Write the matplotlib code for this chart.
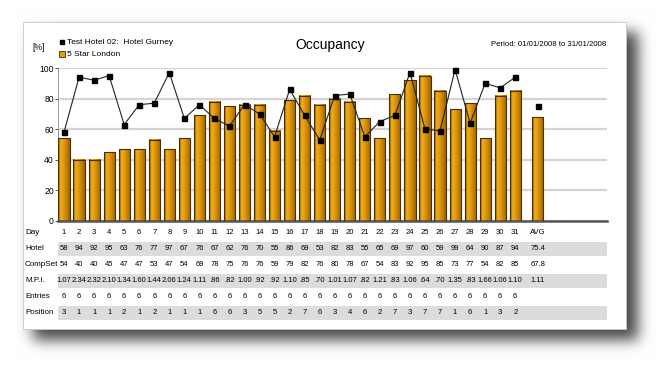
"""Occupancy chart: hotel vs comp set, with daily table underneath."""

import matplotlib
matplotlib.use("Agg")
import matplotlib.pyplot as plt
import numpy as np
from matplotlib.colors import LinearSegmentedColormap
from matplotlib.lines import Line2D
from matplotlib.patches import Rectangle
from matplotlib.transforms import blended_transform_factory

plt.rcParams["font.family"] = ["Liberation Sans Narrow", "Liberation Sans", "DejaVu Sans"]
plt.rcParams["font.stretch"] = "condensed"

days = list(range(1, 32))
hotel = [58, 94, 92, 95, 63, 76, 77, 97, 67, 76, 67, 62, 76, 70, 55, 86,
         69, 53, 82, 83, 55, 65, 69, 97, 60, 59, 99, 64, 90, 87, 94]
compset = [54, 40, 40, 45, 47, 47, 53, 47, 54, 69, 78, 75, 76, 76, 59, 79,
           82, 76, 80, 78, 67, 54, 83, 92, 95, 85, 73, 77, 54, 82, 85]
mpi = ["1.07", "2.34", "2.32", "2.10", "1.34", "1.60", "1.44", "2.06", "1.24",
       "1.11", ".86", ".82", "1.00", ".92", ".92", "1.10", ".85", ".70", "1.01",
       "1.07", ".82", "1.21", ".83", "1.06", ".64", ".70", "1.35", ".83", "1.66",
       "1.06", "1.10"]
entries = [6] * 31
position = [3, 1, 1, 1, 2, 1, 2, 1, 1, 1, 6, 6, 3, 5, 5, 2, 7, 6, 3, 4, 6, 2,
            7, 3, 7, 7, 1, 6, 1, 3, 2]
hotel_avg = 75.4
compset_avg = 67.8
mpi_avg = "1.11"

hotel_name = "Test Hotel 02:  Hotel Gurney"
compset_name = "5 Star London"
period = "Period: 01/01/2008 to 31/01/2008"

W, H = 669, 372
fig = plt.figure(figsize=(W / 100, H / 100), dpi=100)


def fx(px):
    return px / W


def fy(py):
    return 1 - py / H


# background: white sheet with a soft drop shadow
bg = fig.add_axes([0, 0, 1, 1])
bg.set_zorder(-5)
bg.set_xlim(0, W)
bg.set_ylim(H, 0)
bg.axis("off")
mask = np.zeros((H, W))
mask[32:340, 33:638] = 1.0
sigma = 7
k = np.exp(-0.5 * (np.arange(-3 * sigma, 3 * sigma + 1) / sigma) ** 2)
k /= k.sum()
blur = np.apply_along_axis(lambda r: np.convolve(r, k, mode="same"), 1, mask)
blur = np.apply_along_axis(lambda c: np.convolve(c, k, mode="same"), 0, blur)
shade = 1 - 0.72 * blur
bg.imshow(np.dstack([shade] * 3), extent=(0, W, H, 0), aspect="auto", zorder=0)
bg.add_patch(Rectangle((23, 22), 603, 307, facecolor="white",
                       edgecolor="#c8c8c8", lw=0.6, zorder=1))

# chart
ax = fig.add_axes([fx(58), fy(221), fx(607) - fx(58), fy(68) - fy(221)])
ax.set_facecolor("none")
avg_pos = len(days) + 1.5
bar_w = 0.74

grad = LinearSegmentedColormap.from_list(
    "gold", [(0, "#8a5800"), (0.22, "#f2ae1c"), (0.5, "#de960c"), (1, "#a06600")])
g = np.linspace(0, 1, 32).reshape(1, -1)
for x, v in list(zip(days, compset)) + [(avg_pos, compset_avg)]:
    ax.imshow(g, cmap=grad, extent=(x - bar_w / 2, x + bar_w / 2, 0, v),
              aspect="auto", zorder=2, interpolation="bilinear")
    ax.add_patch(Rectangle((x - bar_w / 2, 0), bar_w, v, fill=False,
                           edgecolor="#4a3000", lw=0.8, zorder=3))

ax.plot(days, hotel, color="#222222", lw=0.8, marker="s", ms=3.6,
        mfc="black", mec="black", zorder=4, clip_on=False)
ax.plot([avg_pos], [hotel_avg], ls="none", marker="s", ms=3.6,
        color="black", zorder=4, clip_on=False)

ax.set_xlim(0.6, 37.1)
ax.set_ylim(0, 100)
ax.set_yticks([0, 20, 40, 60, 80, 100])
ax.set_xticks([])
ax.tick_params(axis="y", length=2, width=0.6, pad=1, labelsize=6.2, colors="#333333")
for t in ax.get_yticklabels():
    t.set_color("black")
ax.grid(axis="y", color="#d4d4d4", lw=1.6, zorder=1)
ax.set_axisbelow(True)
for s in ["top", "right"]:
    ax.spines[s].set_visible(False)
ax.spines["left"].set_color("#888888")
ax.spines["left"].set_linewidth(0.6)
ax.spines["bottom"].set_color("#555555")
ax.spines["bottom"].set_linewidth(1.8)

# header
fig.text(fx(330), fy(45), "Occupancy", ha="center", va="center", fontsize=10)
fig.text(fx(32), fy(48), "[%]", ha="left", va="center", fontsize=6.2)
fig.text(fx(606), fy(44), period, ha="right", va="center", fontsize=5.6)
fig.add_artist(Line2D([fx(62)], [fy(42)], marker="s", ms=3.5, color="black",
                      ls="none", transform=fig.transFigure))
fig.add_artist(Line2D([fx(62)], [fy(54)], marker="s", ms=5, mfc="#e29c10",
                      mec="#4a3000", mew=0.6, ls="none", transform=fig.transFigure))
fig.text(fx(67), fy(42), hotel_name, ha="left", va="center", fontsize=6)
fig.text(fx(67), fy(54), compset_name, ha="left", va="center", fontsize=6)

# table
tx = blended_transform_factory(ax.transData, fig.transFigure)
band = blended_transform_factory(ax.transAxes, fig.transFigure)
rows = [
    ("Day", [str(d) for d in days], "AVG", False),
    ("Hotel", [str(v) for v in hotel], f"{hotel_avg:.1f}", True),
    ("CompSet", [str(v) for v in compset], f"{compset_avg:.1f}", False),
    ("M.P.I.", mpi, mpi_avg, True),
    ("Entries", [str(v) for v in entries], "", False),
    ("Position", [str(v) for v in position], "", True),
]
row_y0, row_dy = 233, 16
for i, (name, vals, avg, shaded) in enumerate(rows):
    y = row_y0 + i * row_dy
    if shaded:
        fig.add_artist(Rectangle((0, fy(y + 7)), 1, fy(y - 7) - fy(y + 7),
                                 transform=band, facecolor="#dcdcdc",
                                 edgecolor="none", zorder=-1))
    fig.text(fx(25), fy(y), name, ha="left", va="center", fontsize=5.8)
    for x, v in zip(days, vals):
        ax.text(x, fy(y), v, transform=tx, ha="center", va="center",
                fontsize=5.5, clip_on=False)
    if avg:
        ax.text(avg_pos, fy(y), avg, transform=tx, ha="center", va="center",
                fontsize=5.5, clip_on=False)

fig.savefig("out.png", dpi=100)
